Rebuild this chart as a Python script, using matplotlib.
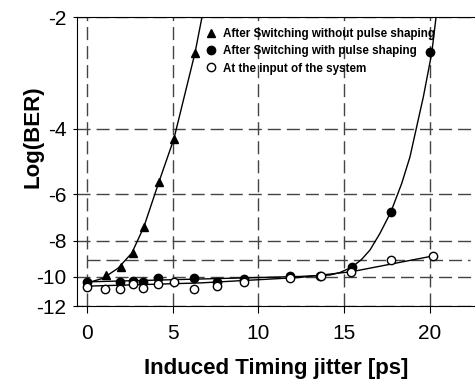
import numpy as np
import matplotlib
matplotlib.use("Agg")
import matplotlib.pyplot as plt

plt.rcParams['font.family'] = ['Liberation Sans', 'DejaVu Sans']
plt.rcParams['axes.unicode_minus'] = False

jitter_no_ps = [0.0, 1.11, 1.97, 2.70, 3.32, 4.22, 5.07, 6.30]
ber_no_ps = [-10.32, -9.90, -9.44, -8.62, -7.34, -5.55, -4.27, -2.50]

jitter_ps = [0.0, 1.94, 2.66, 3.28, 4.16, 6.26, 7.60, 9.15, 11.84, 13.6, 15.43, 17.71, 20.0]
ber_ps = [-10.31, -10.37, -10.25, -10.33, -10.07, -10.09, -10.31, -10.17,
          -9.96, -9.94, -9.40, -6.71, -2.48]

jitter_in = [0.0, 1.05, 1.94, 2.66, 3.28, 4.16, 5.07, 6.25, 7.60, 9.15,
             11.84, 13.63, 15.41, 17.71, 20.16]
ber_in = [-10.69, -10.80, -10.77, -10.46, -10.70, -10.49, -10.37, -10.81,
          -10.62, -10.32, -10.09, -9.95, -9.70, -9.02, -8.80]

# fitted curves
fit_no_ps_x = [0.0, 0.93, 1.81, 2.62, 3.32, 4.20, 5.07, 6.30, 6.71]
fit_no_ps_y = [-10.40, -10.11, -9.50, -8.64, -7.35, -5.56, -4.26, -2.50, -2.0]

fit_ps_x = [0.0, 6.59, 9.5, 12.42, 14.17, 14.75, 15.43, 16.0, 16.50, 17.08, 17.71,
            18.35, 18.83, 19.22, 19.61, 20.10, 20.35]
fit_ps_y = [-10.33, -10.15, -10.07, -9.99, -9.90, -9.75, -9.44, -9.0, -8.48, -7.65,
            -6.71, -5.61, -4.76, -3.95, -3.28, -2.50, -2.0]

fit_in_x = [0.0, 6.59, 12.42, 15.43, 20.16]
fit_in_y = [-10.61, -10.40, -10.05, -9.70, -8.80]

x_ticks = [0, 5, 10, 15, 20]
y_ticks = [-2, -4, -6, -8, -10, -12]
ber_limit = -9


def fwd(y):
    with np.errstate(divide='ignore', invalid='ignore'):
        return -np.log(np.abs(y))


def inv(t):
    return -np.exp(-t)


fig = plt.figure(figsize=(4.75, 3.83), dpi=100)
ax = fig.add_axes([0.163, 0.201, 0.837, 0.7545])
ax.set_xlim(-0.55, 22.62)
ax.set_ylim(-12, -2)
ax.set_yscale('function', functions=(fwd, inv))
ax.set_ylim(-12, -2)

dash = (0, (9.4, 4.3))
ax.grid(True, color='#444444', lw=1.0, linestyle=dash)
ax.plot([0, 22.33], [ber_limit, ber_limit], color='#444444', lw=1.0, linestyle=dash)

# fitted lines
ax.plot(fit_no_ps_x, fit_no_ps_y, color='black', lw=1.0)
ax.plot(fit_ps_x, fit_ps_y, color='black', lw=1.0)
ax.plot(fit_in_x, fit_in_y, color='black', lw=1.0)

# measurements
h1, = ax.plot(jitter_no_ps, ber_no_ps, ls='none', marker='^', ms=6,
              color='black', label='After Switching without pulse shaping')
h2, = ax.plot(jitter_ps, ber_ps, ls='none', marker='o', ms=6,
              color='black', label='After Switching with pulse shaping')
h3, = ax.plot(jitter_in, ber_in, ls='none', marker='o', ms=6,
              mfc='white', mec='black', mew=1.0, label='At the input of the system')

ax.set_xlim(-0.55, 22.62)
ax.set_ylim(-12, -2)
ax.set_xticks(x_ticks)
ax.set_yticks(y_ticks)
ax.set_yticklabels([str(v) for v in y_ticks])
ax.tick_params(axis='x', labelsize=15, length=5, pad=8)
ax.tick_params(axis='y', labelsize=15, length=3, pad=5)
ax.spines['right'].set_visible(False)

ax.set_xlabel('Induced Timing jitter [ps]', fontsize=16, fontweight='bold',
              labelpad=11)
ax.set_ylabel('Log(BER)', fontsize=16, fontweight='bold')
ax.yaxis.set_label_coords(-0.085, 0.585)

leg = ax.legend(handles=[h1, h2, h3], loc='upper left',
                bbox_to_anchor=(0.323, 0.962), frameon=False,
                prop={'weight': 'bold', 'size': 8.4}, handlelength=0.9,
                handletextpad=0.55, labelspacing=0.45, borderpad=0,
                borderaxespad=0, numpoints=1)

fig.savefig('out.png', dpi=100)
